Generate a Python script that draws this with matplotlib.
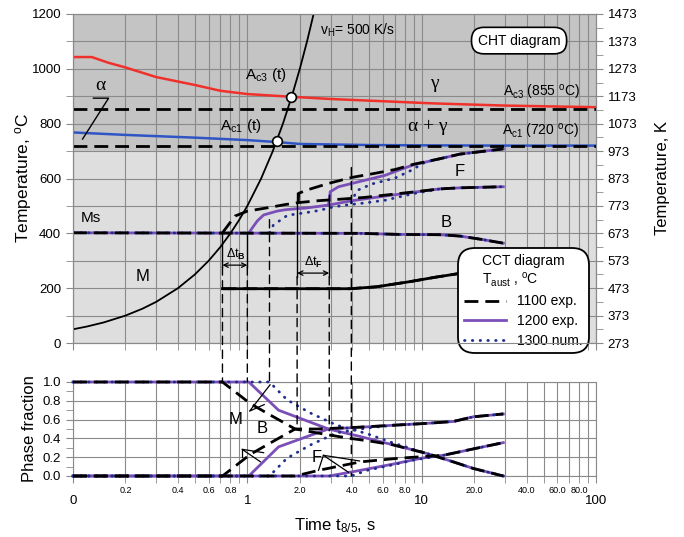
import numpy as np
import matplotlib.pyplot as plt
from matplotlib.lines import Line2D
from matplotlib.patches import ConnectionPatch

plt.rcParams['font.family'] = ['Liberation Sans', 'DejaVu Sans']
plt.rcParams['mathtext.fontset'] = 'custom'
plt.rcParams['mathtext.rm'] = 'Liberation Sans'
plt.rcParams['mathtext.it'] = 'Liberation Sans:italic'
plt.rcParams['mathtext.bf'] = 'Liberation Sans:bold'
plt.rcParams['mathtext.default'] = 'regular'

# ---- data (time in s, temperature in degC) ----
heat_t = [0.1, 0.12, 0.15, 0.2, 0.25, 0.3, 0.4, 0.5, 0.6, 0.7, 0.8, 0.9, 1.0,
          1.2, 1.4, 1.6, 1.8, 2.0, 2.2, 2.4]
heat_T = [50, 60, 75, 100, 125, 150, 200, 250, 300, 350, 400, 450, 500,
          600, 700, 800, 900, 1000, 1100, 1200]

ac3_t = [0.1, 0.128, 0.16, 0.2, 0.3, 0.5, 0.7, 1.0, 1.8, 3.0, 5.0, 11.6, 30, 100]
ac3_T = [1043, 1043, 1022, 1005, 970, 941, 920, 908, 898, 890, 884, 874, 866, 860]
ac1_t = [0.1, 0.2, 0.5, 1.0, 1.47, 2.0, 5, 10, 30, 100]
ac1_T = [768, 759, 749, 740, 733, 726, 722, 721, 720, 720]
ac3_eq, ac1_eq = 855, 720
cross_t = [1.78, 1.47]
cross_T = [896, 735]

# Ms / bainite finish line (shared by all three)
ms_t = [0.1, 4.4, 7.5, 12.7, 16.6, 22, 29.4]
ms_T = [402, 400, 396, 395, 390, 378, 364]

# bainite start / lower branch
bs_t = {'1100': [0.72, 0.85, 1.0, 1.3, 1.65, 1.96, 2.55, 3.5, 4.7, 6.5, 9.0, 12.7, 16.6, 29.4],
        '1200': [1.02, 1.14, 1.24, 1.48, 1.65, 1.93, 2.15, 2.92, 3.98, 5.41, 9.0, 12.7, 16.6, 29.4],
        '1300': [1.34, 1.41, 1.69, 1.88, 2.15, 2.56, 3.06, 3.64, 4.74, 6.2, 9.0, 12.7, 16.6, 29.4]}
bs_T = {'1100': [402, 463, 481, 493, 505, 512, 519, 525, 531, 541, 551, 562, 566, 570],
        '1200': [402, 445, 467, 481, 486, 490, 492, 503, 519, 531, 550, 562, 566, 570],
        '1300': [402, 430, 465, 470, 475, 483, 495, 503, 511, 521, 545, 562, 566, 570]}

# ferrite start
fs_t = {'1100': [1.96, 1.97, 2.25, 2.92, 3.98, 5.41, 7.06, 9.0, 12.7, 16.6, 29.4],
        '1200': [2.92, 2.99, 3.34, 4.35, 6.2, 7.5, 9.0, 12.7, 16.6, 29.4],
        '1300': [3.95, 4.1, 4.25, 5.18, 7.06, 8.6, 10.5, 12.7, 16.6, 29.4]}
fs_T = {'1100': [512, 546, 560, 582, 604, 619, 633, 652, 672, 689, 708],
        '1200': [503, 552, 570, 588, 612, 632, 650, 672, 689, 708],
        '1300': [512, 535, 556, 580, 602, 628, 660, 672, 689, 708]}

# martensite finish line
mf_t = [0.72, 3.9, 5.5, 8.6, 12, 16.6, 25]
mf_T = [198, 198, 205, 224, 240, 254, 280]

# phase fractions
m_t = {'1100': [0.1, 0.72, 1.04, 1.35, 1.88, 2.86, 3.9, 5.1, 6.9, 10.7, 15.2, 19.8, 29.4],
       '1200': [0.1, 1.02, 1.51, 2.92, 4.44, 6.9, 10.7, 15.2, 19.8, 29.4],
       '1300': [0.1, 1.34, 1.69, 2.3, 3.26, 4.86, 6.9, 10.7, 15.2, 19.8, 29.4]}
m_f = {'1100': [1, 1, 0.77, 0.65, 0.5, 0.44, 0.40, 0.37, 0.33, 0.24, 0.15, 0.08, 0.0],
       '1200': [1, 1, 0.70, 0.50, 0.42, 0.33, 0.24, 0.15, 0.08, 0.0],
       '1300': [1, 1, 0.81, 0.67, 0.54, 0.45, 0.35, 0.24, 0.15, 0.08, 0.0]}
b_t = {'1100': [0.1, 0.72, 1.04, 1.35, 1.88, 2.5, 4.44, 6.9, 10.7, 15.2, 19.8, 29.4],
       '1200': [0.1, 1.02, 1.51, 2.62, 2.92, 5.07, 6.9, 10.7, 15.2, 19.8, 29.4],
       '1300': [0.1, 1.34, 1.69, 2.3, 3.26, 4.86, 6.9, 10.7, 15.2, 19.8, 29.4]}
b_f = {'1100': [0, 0, 0.23, 0.35, 0.5, 0.5, 0.52, 0.54, 0.56, 0.58, 0.63, 0.66],
       '1200': [0, 0, 0.31, 0.47, 0.50, 0.525, 0.54, 0.56, 0.58, 0.63, 0.66],
       '1300': [0, 0, 0.19, 0.33, 0.46, 0.51, 0.54, 0.56, 0.58, 0.63, 0.66]}
f_t = {'1100': [0.1, 1.88, 2.62, 4.44, 7.5, 13.3, 20, 29.4],
       '1200': [0.1, 2.95, 4.44, 7, 10, 13.3, 20, 29.4],
       '1300': [0.1, 3.95, 4.86, 6.5, 9, 13.3, 20, 29.4]}
f_f = {'1100': [0, 0, 0.064, 0.15, 0.19, 0.22, 0.29, 0.355],
       '1200': [0, 0, 0.06, 0.13, 0.19, 0.22, 0.29, 0.355],
       '1300': [0, 0, 0.06, 0.11, 0.17, 0.22, 0.29, 0.355]}

# vertical guide lines: time, start T, end of solid part, end fraction below
vl_t = [0.72, 1.0, 1.34, 1.93, 2.95, 3.95]
vl_T0 = [402, 402, 450, 546, 540, 640]
vl_T1 = [278, 278, 450, 242, 242, 640]
vl_f = [1.0, 1.0, 1.0, 0.5, 0.48, 0.0]

series = ['1200', '1300', '1100']
labels = {'1100': '1100 exp.', '1200': '1200 exp.', '1300': '1300 num.'}
style = {'1100': dict(color='black', lw=2.0, dashes=(5, 2.5), zorder=5),
         '1200': dict(color='#7b4fb8', lw=2.0, zorder=3),
         '1300': dict(color='#1f2e8c', lw=2.0, dashes=(0.2, 2.6),
                      dash_capstyle='round', zorder=4)}

major_t = [0.1, 1, 10, 100]
major_lab = ['0', '1', '10', '100']
minor_t = [0.2, 0.3, 0.4, 0.5, 0.6, 0.7, 0.8, 0.9,
           2, 3, 4, 5, 6, 7, 8, 9, 20, 30, 40, 50, 60, 70, 80, 90]
minor_lab = ['0.2', '', '0.4', '', '0.6', '', '0.8', '',
             '2.0', '', '4.0', '', '6.0', '', '8.0', '',
             '20.0', '', '40.0', '', '60.0', '', '80.0', '']

grid_c = '#8a8a8a'
fig = plt.figure(figsize=(6.84, 5.37), dpi=100)
ax1 = fig.add_axes([73 / 684, 1 - 343 / 537, 523 / 684, 329 / 537])
ax2 = fig.add_axes([73 / 684, 1 - 476 / 537, 523 / 684, 94 / 537])

for ax in (ax1, ax2):
    ax.set_xscale('log')
    ax.set_xlim(0.1, 100)
    ax.set_xticks(major_t)
    ax.set_xticks(minor_t, minor=True)
    ax.grid(True, which='both', axis='both', color=grid_c, lw=0.8)
    ax.set_axisbelow(True)
    for s in ax.spines.values():
        s.set_color(grid_c)
    ax.tick_params(which='both', direction='out', color=grid_c, length=5,
                   labelsize=9.5)

# ---------------- top panel ----------------
ax1.set_ylim(0, 1200)
ax1.set_yticks(range(0, 1201, 200))
ax1.set_yticks(range(100, 1200, 200), minor=True)
ax1.grid(True, which='minor', axis='y', color=grid_c, lw=0.8)
ax1.tick_params(axis='x', which='both', labelbottom=False)
ax1.axhspan(700, 1200, color='#c4c4c4', zorder=0)
ax1.axhspan(0, 700, color='#dedede', zorder=0)

axr = ax1.twinx()
axr.set_ylim(273, 1473)
axr.set_yticks(range(273, 1474, 100))
axr.set_yticks(range(323, 1424, 100), minor=True)
axr.tick_params(which='both', direction='out', color=grid_c, length=5, labelsize=9.5)
for s in axr.spines.values():
    s.set_color(grid_c)

ax1.plot(ac3_t, ac3_T, color='#f0302a', lw=1.8, zorder=3)
ax1.plot(ac1_t, ac1_T, color='#2f55c4', lw=1.8, zorder=3)
ax1.axhline(ac3_eq, color='black', lw=2, dashes=(5, 2.5), zorder=4)
ax1.axhline(ac1_eq, color='black', lw=2, dashes=(5, 2.5), zorder=4)
ax1.plot(heat_t, heat_T, color='black', lw=1.3, zorder=6)
ax1.plot(cross_t, cross_T, 'o', ms=7, mfc='white', mec='black', mew=1.2, zorder=7)

for k in series:
    st = style[k]
    ax1.plot(ms_t, ms_T, **st)
    ax1.plot(bs_t[k], bs_T[k], **st)
    ax1.plot(fs_t[k], fs_T[k], **st)
ax1.plot(mf_t, mf_T, **style['1100'])
ax1.plot(mf_t[0:1] + [0.87] + mf_t[1:], mf_T[0:1] + [198] + mf_T[1:],
         color='black', lw=2.0, zorder=5)

# vertical guides
for t, T0, T1, fe in zip(vl_t, vl_T0, vl_T1, vl_f):
    if T1 != T0:
        ax1.plot([t, t], [T0, T1], color='black', lw=1.0, zorder=6)
    con = ConnectionPatch(xyA=(t, T1), coordsA=ax1.transData,
                          xyB=(t, fe), coordsB=ax2.transData,
                          color='black', lw=1.0, linestyle=(0, (6, 4)), zorder=6)
    fig.add_artist(con)

arrow = dict(arrowstyle='<->', color='black', lw=0.9, shrinkA=0, shrinkB=0,
             mutation_scale=8)
ax1.annotate('', xy=(0.72, 284), xytext=(1.0, 284), arrowprops=arrow)
ax1.annotate('', xy=(1.93, 255), xytext=(2.95, 255), arrowprops=arrow)
ax1.text(0.86, 322, 'Δt$_\\mathbf{B}$', fontsize=9, ha='center', va='center')
ax1.text(2.39, 292, 'Δt$_\\mathbf{F}$', fontsize=9, ha='center', va='center')

greek = ['Liberation Serif', 'DejaVu Serif']
ax1.text(2.62, 1141, 'v$_H$= 500 K/s', fontsize=10, va='center')
ax1.text(36.2, 1103, 'CHT diagram', fontsize=10, ha='center', va='center',
         bbox=dict(boxstyle='round,pad=0.45,rounding_size=0.9', fc='white',
                   ec='black', lw=1.2))
ax1.text(1.27, 977, 'A$_{c3}$ (t)', fontsize=11, ha='center', va='center')
ax1.text(0.92, 791, 'A$_{c1}$ (t)', fontsize=11, ha='center', va='center')
ax1.text(0.144, 938, 'α', fontsize=14, ha='center', va='center', family=greek)
ax1.plot([0.131, 0.16, 0.1135], [893, 893, 744], color='black', lw=1.0, zorder=6)
ax1.text(11.8, 945, 'γ', fontsize=14, ha='center', va='center', family=greek)
ax1.text(10.9, 790, 'α + γ', fontsize=14, ha='center', va='center', family=greek)
ax1.text(49, 912, 'A$_{c3}$ (855 $^{o}$C)', fontsize=10, ha='center', va='center')
ax1.text(48, 771, 'A$_{c1}$ (720 $^{o}$C)', fontsize=10, ha='center', va='center')
ax1.text(0.126, 456, 'Ms', fontsize=11, ha='center', va='center')
ax1.text(0.25, 241, 'M', fontsize=12, ha='center', va='center')
ax1.text(16.6, 624, 'F', fontsize=12, ha='center', va='center')
ax1.text(13.8, 441, 'B', fontsize=12, ha='center', va='center')

handles = [Line2D([], [], **{k: v for k, v in style[s].items() if k != 'zorder'})
           for s in ['1100', '1200', '1300']]
leg = ax1.legend(handles, [labels[s] for s in ['1100', '1200', '1300']],
                 title='CCT diagram\nT$_{aust}$ , $^{o}$C', fontsize=10,
                 title_fontsize=10, loc='upper left', bbox_to_anchor=(0.737, 0.289),
                 borderaxespad=0, handlelength=3.0, labelspacing=0.4,
                 borderpad=0.42, framealpha=1, edgecolor='black', fancybox=True)
leg.get_frame().set_linewidth(1.3)
leg.get_frame().set_boxstyle('round,pad=0,rounding_size=1.2')
leg.set_zorder(10)

# ---------------- bottom panel ----------------
ax2.set_ylim(0, 1)
ax2.set_yticks(np.arange(0, 1.01, 0.2))
ax2.set_yticks(np.arange(0.1, 1.0, 0.2), minor=True)
ax2.set_yticklabels(['0.0', '0.2', '0.4', '0.6', '0.8', '1.0'])
ax2.grid(False, which='minor', axis='y')
ax2.set_xticklabels(major_lab)
ax2.set_xticklabels(minor_lab, minor=True)
ax2.tick_params(axis='x', which='major', pad=9, labelsize=9.5)
ax2.tick_params(axis='x', which='minor', pad=2, labelsize=6.5)

for k in series:
    st = style[k]
    ax2.plot(m_t[k], m_f[k], clip_on=False, **st)
    ax2.plot(b_t[k], b_f[k], clip_on=False, **st)
    ax2.plot(f_t[k], f_f[k], clip_on=False, **st)

ax2.text(0.853, 0.60, 'M', fontsize=12, ha='center', va='center')
ax2.text(1.22, 0.50, 'B', fontsize=12, ha='center', va='center')
ax2.text(2.49, 0.20, 'F', fontsize=12, ha='center', va='center')
ax2.plot([1.35, 1.03, 1.25], [0.97, 0.69, 0.76], color='black', lw=0.9, zorder=6)
ax2.plot([1.24, 0.933, 1.187], [0.248, 0.284, 0.152], color='black', lw=0.9, zorder=6)
ax2.plot([0.933, 0.933], [0.284, 0.2], color='black', lw=0.9, zorder=6)
ax2.plot([4.4, 2.73, 3.8], [0.16, 0.22, 0.04], color='black', lw=0.9, zorder=6)
ax2.plot([2.73, 2.56], [0.22, 0.06], color='black', lw=0.9, zorder=6)

fig.text(24 / 684, 1 - 178 / 537, 'Temperature, $^{o}$C', rotation=90,
         fontsize=12.5, ha='center', va='center')
fig.text(662 / 684, 1 - 178 / 537, 'Temperature, K', rotation=90,
         fontsize=12, ha='center', va='center')
fig.text(29 / 684, 1 - 429 / 537, 'Phase fraction', rotation=90,
         fontsize=12, ha='center', va='center')
fig.text(335 / 684, 1 - 526 / 537, 'Time t$_{8/5}$, s', fontsize=12,
         ha='center', va='center')

fig.savefig('out.png', dpi=100)
